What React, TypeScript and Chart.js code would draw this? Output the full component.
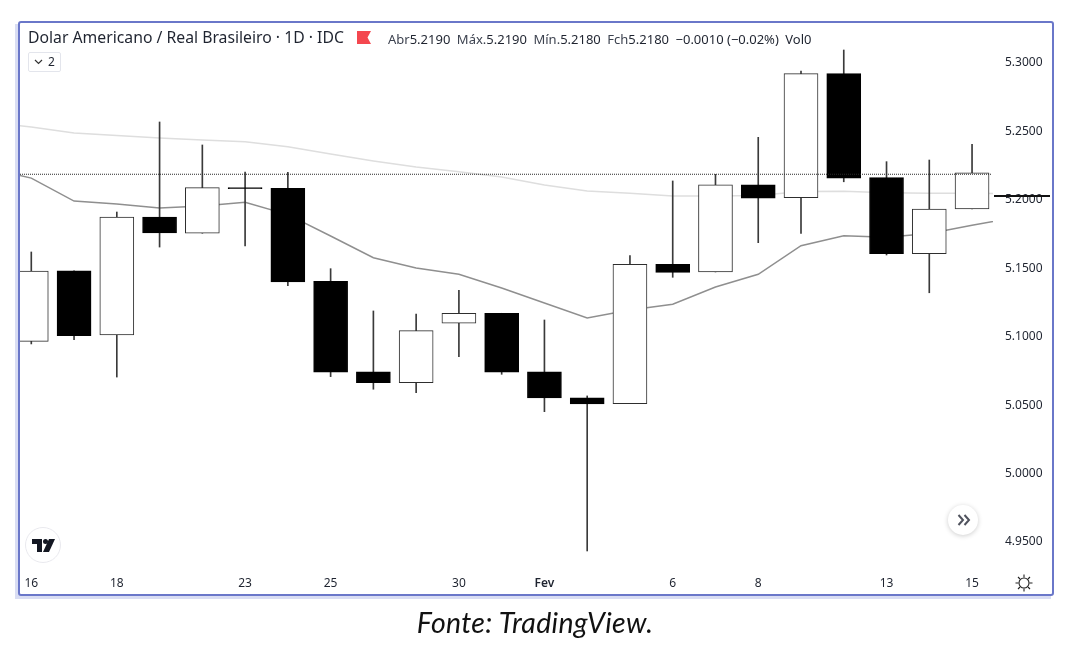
import React, { useEffect, useRef } from "react";
import { Chart, registerables } from "chart.js";

Chart.register(...registerables);

const dayLabels = ["16","17","18","19","20","23","24","25","26","27","30","31","Fev","2","3","6","7","8","9","10","13","14","15"];
const shownDays = ["16","18","23","25","30","Fev","6","8","13","15"];
const opens = [5.0959,5.1475,5.1005,5.1867,5.1749,5.2082,5.2077,5.1398,5.0737,5.0657,5.1091,5.1164,5.0737,5.0547,5.0503,5.1522,5.1466,5.2103,5.2008,5.2915,5.2155,5.1599,5.1926];
const closes = [5.1473,5.1000,5.1867,5.1751,5.2082,5.2075,5.1393,5.0733,5.0657,5.1037,5.1164,5.0733,5.0545,5.0501,5.1522,5.1463,5.2103,5.2006,5.2915,5.2152,5.1599,5.1926,5.2191];
const highs = [5.1612,5.1475,5.1904,5.2562,5.2394,5.2196,5.2194,5.1490,5.1181,5.1159,5.1332,5.1164,5.1115,5.0560,5.1585,5.2131,5.2179,5.2450,5.2934,5.3088,5.2272,5.2284,5.2399];
const lows = [5.0940,5.0971,5.0698,5.1648,5.1749,5.1656,5.1365,5.0701,5.0609,5.0584,5.0847,5.0718,5.0445,4.9427,5.0503,5.1427,5.1466,5.1680,5.1748,5.2125,5.1590,5.1314,5.1926];
// Moving averages, index -1 .. 23 (they run past both ends of the candles)
const fastAverage = [5.2225,5.2152,5.1984,5.1962,5.1933,5.1948,5.1975,5.1885,5.1729,5.1570,5.1495,5.1449,5.1349,5.1239,5.1129,5.1188,5.1230,5.1356,5.1449,5.1658,5.1731,5.1719,5.1747,5.1807,5.1862];
const slowAverage = [5.2562,5.2525,5.2481,5.2463,5.2445,5.2430,5.2418,5.2381,5.2328,5.2277,5.2233,5.2198,5.2160,5.2101,5.2057,5.2041,5.2021,5.2021,5.2025,5.2054,5.2055,5.2045,5.2041,5.2041,5.2039];
const lastClose = 5.218;
const priceTicks = [5.3, 5.25, 5.2, 5.15, 5.1, 5.05, 5.0, 4.95];
const headerTitle = "Dolar Americano / Real Brasileiro · 1D · IDC";
const ohlcLegend = [["Abr", "5.2190"], ["Máx.", "5.2190"], ["Mín.", "5.2180"], ["Fch", "5.2180"]];
const changeText = "−0.0010 (−0.02%)";
const volumeText = "Vol0";
const captionText = "Fonte: TradingView.";

const UI_FONT = "'Noto Sans', sans-serif";

export default function App() {
  const ref = useRef<HTMLCanvasElement>(null);
  useEffect(() => {
    const xMin = -0.264;
    const xMax = 22.49;
    const isUp = opens.map((o, i) => closes[i] > o);
    const chart = new Chart(ref.current!, {
      data: {
        datasets: [
          {
            type: "line",
            order: 1,
            data: [{ x: xMin, y: lastClose }, { x: 22.45, y: lastClose }],
            borderColor: "#2a2a2a",
            borderWidth: 1,
            borderDash: [1, 1],
            pointRadius: 0,
          },
          {
            type: "bar",
            order: 2,
            grouped: false,
            barThickness: 34,
            data: opens.map((o, i) => ({ x: i, y: [o, closes[i]] })),
            backgroundColor: isUp.map((u) => (u ? "#ffffff" : "#000000")),
            borderColor: isUp.map((u) => (u ? "#2e2e2e" : "#000000")),
            borderWidth: 1,
            borderSkipped: false,
          },
          {
            type: "bar",
            order: 3,
            grouped: false,
            barThickness: 1,
            data: lows.map((l, i) => ({ x: i, y: [l, highs[i]] })),
            backgroundColor: "#3a3a3a",
            borderWidth: 0,
          },
          {
            type: "line",
            order: 4,
            data: fastAverage.map((v, i) => ({ x: i - 1, y: v })),
            borderColor: "#8f8f8f",
            borderWidth: 1.5,
            pointRadius: 0,
            tension: 0,
          },
          {
            type: "line",
            order: 5,
            data: slowAverage.map((v, i) => ({ x: i - 1, y: v })),
            borderColor: "#dedede",
            borderWidth: 1.5,
            pointRadius: 0,
            tension: 0,
          },
        ],
      } as any,
      options: {
        responsive: false,
        animation: false,
        layout: { padding: { left: 20, top: 24, right: 25, bottom: 53 } },
        plugins: { legend: { display: false }, tooltip: { enabled: false }, title: { display: false } },
        scales: {
          x: {
            type: "linear",
            offset: false,
            min: xMin,
            max: xMax,
            grid: { display: false, drawTicks: false },
            border: { display: false },
            afterBuildTicks: (s: any) => {
              s.ticks = shownDays.map((d) => ({ value: dayLabels.indexOf(d) }));
            },
            afterFit: (s: any) => {
              s.height = 26;
            },
            ticks: {
              autoSkip: false,
              maxRotation: 0,
              padding: 6,
              color: "#1f2430",
              font: (c: any) => ({
                family: UI_FONT,
                size: 12,
                weight: dayLabels[c.tick?.value] === "Fev" ? "600" : "400",
              }),
              callback: (v: any) => dayLabels[v] ?? "",
            },
          },
          y: {
            type: "linear",
            position: "right",
            min: 4.9288,
            max: 5.3278,
            grid: { display: false, drawTicks: false },
            border: { display: false },
            afterBuildTicks: (s: any) => {
              s.ticks = priceTicks.map((value) => ({ value }));
            },
            afterFit: (s: any) => {
              s.width = 59;
            },
            ticks: {
              padding: 12,
              labelOffset: 1,
              color: "#1f2430",
              font: { family: UI_FONT, size: 12 },
              callback: (v: any) => Number(v).toFixed(4),
            },
          },
        },
      },
    } as any);
    return () => chart.destroy();
  }, []);

  const abs = (o: React.CSSProperties): React.CSSProperties => ({ position: "absolute", ...o });

  return (
    <div style={abs({ left: 0, top: 0, width: 1077, height: 649, background: "#fff", overflow: "hidden", fontFamily: UI_FONT, color: "#1f2430" })}>
      <div style={abs({ left: 15, top: 24, width: 1036, height: 575, background: "#d9ddf3" })} />
      <div style={abs({ left: 18, top: 21, width: 1036, height: 575, background: "#fff", border: "2px solid #6a77c9", boxSizing: "border-box", borderRadius: 3 })} />
      <canvas ref={ref} width={1077} height={649} style={abs({ left: 0, top: 0 })} />

      <div style={abs({ left: 28, top: 27, fontSize: 15.75, lineHeight: "21px", whiteSpace: "nowrap" })}>{headerTitle}</div>
      <svg width="14" height="13" style={abs({ left: 357, top: 31 })}>
        <path d="M0 0H14L10.5 6.5L14 13H0Z" fill="#f4474f" />
      </svg>
      <div style={abs({ left: 388, top: 31, fontSize: 13, lineHeight: "17px", whiteSpace: "nowrap", display: "flex" })}>
        {ohlcLegend.map(([k, v]) => (
          <span key={k} style={{ marginRight: 6.5 }}>
            <span style={{ color: "#3d4350" }}>{k}</span>
            {v}
          </span>
        ))}
        <span style={{ marginRight: 6.5 }}>{changeText}</span>
        <span>{volumeText}</span>
      </div>
      <div style={abs({ left: 28, top: 52, width: 33, height: 20, boxSizing: "border-box", border: "1px solid #e3e5ec", borderRadius: 2, fontSize: 12, lineHeight: "18px", paddingLeft: 5, display: "flex", alignItems: "center", gap: 5 })}>
        <svg width="9" height="6"><path d="M1 1L4.5 4.5L8 1" fill="none" stroke="#333" strokeWidth="1.2" /></svg>
        <span>2</span>
      </div>

      <div style={abs({ left: 25, top: 527, width: 36, height: 36, borderRadius: "50%", boxSizing: "border-box", border: "1px solid #e9e9ee", background: "#fff" })}>
        <svg width="23" height="13" style={abs({ left: 6, top: 11 })}>
          <path d="M0 0H10V13H5V5H0Z" fill="#131722" />
          <circle cx="13.5" cy="2.5" r="2.5" fill="#131722" />
          <path d="M17 0H23L17 13H11Z" fill="#131722" />
        </svg>
      </div>

      <div style={abs({ left: 948, top: 505, width: 30, height: 30, borderRadius: "50%", background: "#fff", boxShadow: "0 1px 5px rgba(0,0,0,.2)" })}>
        <svg width="14" height="12" style={abs({ left: 9, top: 9 })}>
          <path d="M1.5 1L6 6L1.5 11 M7.5 1L12 6L7.5 11" fill="none" stroke="#50535e" strokeWidth="2" />
        </svg>
      </div>

      <svg width="18" height="18" style={abs({ left: 1015, top: 574 })}>
        <circle cx="9" cy="9" r="5" fill="none" stroke="#222" strokeWidth="1.1" />
        <path d="M9 0.5V3.5 M9 14.5V17.5 M0.5 9H3.5 M14.5 9H17.5 M3 3L5 5 M13 13L15 15 M15 3L13 5 M5 13L3 15" stroke="#222" strokeWidth="1.1" />
      </svg>

      <div style={abs({ left: 994, top: 195, width: 56, height: 2, background: "#111" })} />

      <div style={abs({ left: 0, width: 1070, top: 604, textAlign: "center", fontFamily: "Lato, sans-serif", fontStyle: "italic", fontSize: 28.5, letterSpacing: 0.3, lineHeight: "36px", color: "#111" })}>{captionText}</div>
    </div>
  );
}
